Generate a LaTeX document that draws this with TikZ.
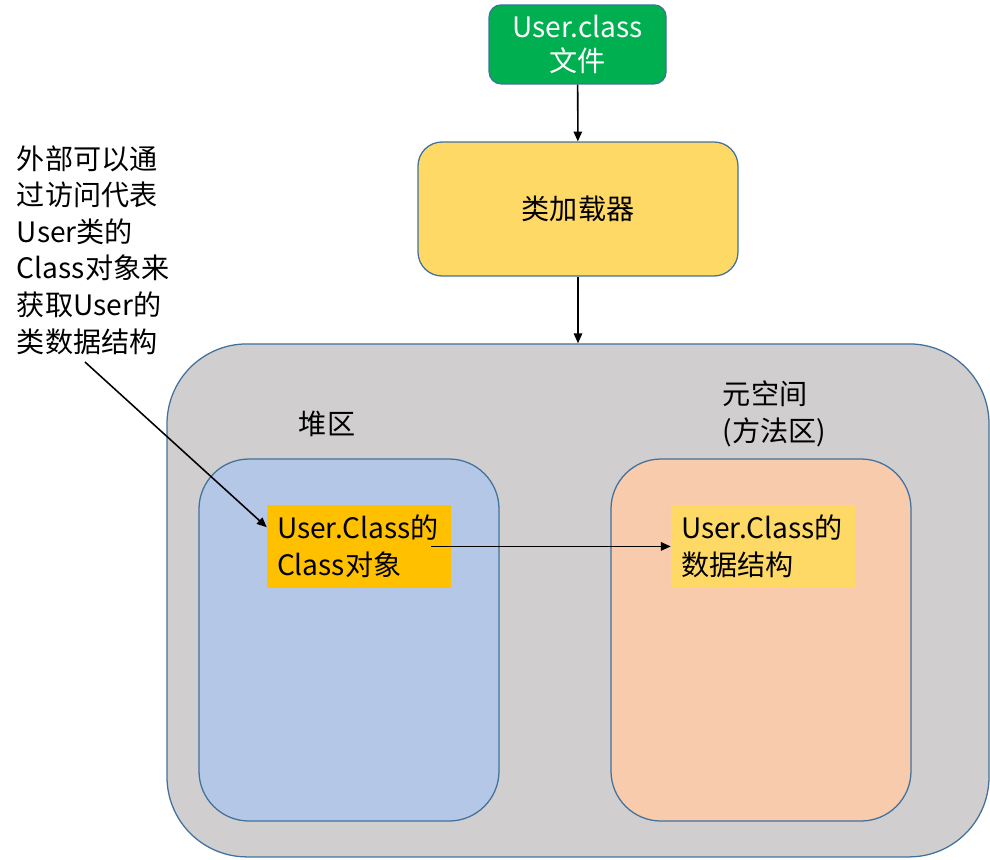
\documentclass[tikz,border=0pt]{standalone}
\usepackage{fontspec}
\setmainfont{Noto Sans CJK SC}
\usepackage{xcolor}
\usepackage{tikz}
\usetikzlibrary{arrows.meta,positioning,calc}

\definecolor{edgeblue}{HTML}{41719C}
\definecolor{filegreen}{HTML}{00B050}
\definecolor{loaderyellow}{HTML}{FFD966}
\definecolor{jvmgray}{HTML}{D0CECE}
\definecolor{heapblue}{HTML}{B4C7E7}
\definecolor{metaorange}{HTML}{F8CBAD}
\definecolor{objgold}{HTML}{FFC000}

\begin{document}
\begin{tikzpicture}[
  txt/.style={font=\fontsize{20}{26}\selectfont},
  boxFile/.style={draw=edgeblue,line width=0.9pt,rounded corners=0.3cm,fill=filegreen,text=white,txt,align=center,minimum width=4.425cm,minimum height=1.975cm},
  boxLoader/.style={draw=edgeblue,line width=0.9pt,rounded corners=0.6cm,fill=loaderyellow,txt,minimum width=8cm,minimum height=3.35cm},
  area/.style={draw=edgeblue,line width=0.9pt,rounded corners=1.25cm,minimum width=7.5cm,minimum height=9.05cm},
  item/.style={txt,align=left,text width=4.1cm,minimum width=4.6cm,minimum height=2.075cm},
  arr/.style={-{Triangle[length=7pt,width=6pt]},line width=1.1pt}
]
  \useasboundingbox (0,0) rectangle (24.75,-21.475);

  \node[boxFile] (file) at (14.44,-1.11) {User.class\\[-2pt]文件};
  \node[boxLoader] (loader) at (14.45,-5.225) {类加载器};
  \node[draw=edgeblue,line width=0.9pt,rounded corners=2cm,fill=jvmgray,
    minimum width=20.55cm,minimum height=12.825cm] (jvm) at (14.45,-15.01) {};

  \node[area,fill=heapblue] (heap) at (8.725,-16.0) {};
  \node[area,fill=metaorange] (meta) at (19.025,-16.0) {};
  \node[txt] (heaplbl) at (8.175,-10.6) {堆区};
  \node[txt,anchor=west,align=left] (metalbl) at (17.95,-10.35) {元空间\\(方法区)};

  \node[item,fill=objgold] (obj) at (8.975,-13.66) {User.Class的\\Class对象};
  \node[item,fill=loaderyellow] (data) at (19.075,-13.66) {User.Class的\\数据结构};

  \node[txt,anchor=west,align=left] (note) at (0.3,-6.25)
    {外部可以通\\过访问代表\\User类的\\Class对象来\\获取User的\\类数据结构};
  \coordinate (notetip) at (2.125,-9.05);

  \draw[arr] (file) -- (loader);
  \draw[arr] (loader) -- (jvm.north);
  \draw[arr] ([xshift=-0.5cm]obj.east) -- (data.west);
  \draw[arr] (notetip) -- ([yshift=0.48cm]obj.west);
\end{tikzpicture}
\end{document}
